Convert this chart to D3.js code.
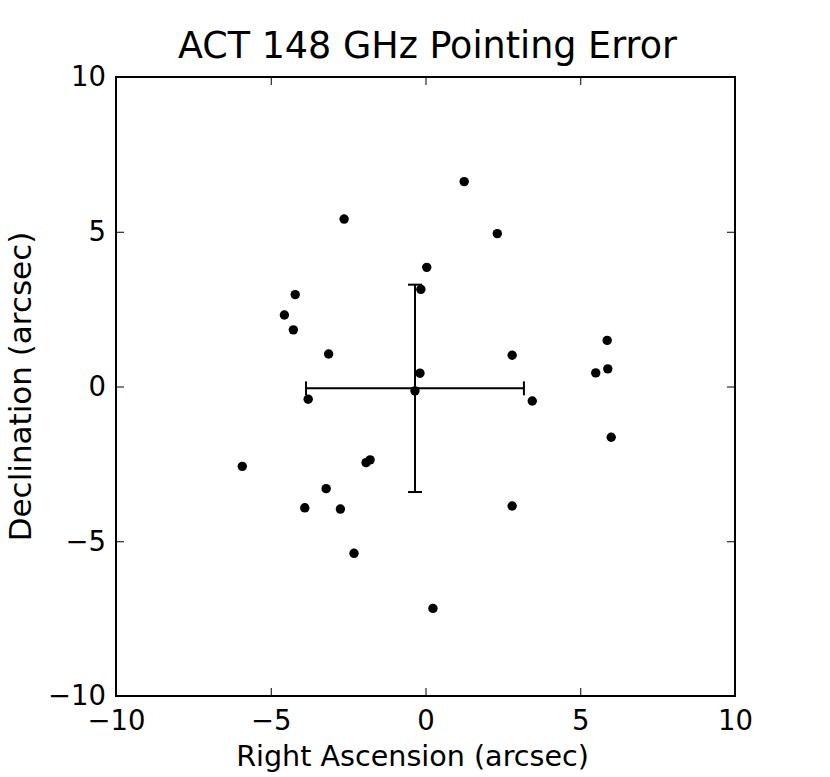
<!DOCTYPE html>
<html>
<head>
<meta charset="utf-8">
<script src="https://cdn.jsdelivr.net/npm/d3@7"></script>
<style>
  body { margin: 0; background: #fff; }
  text { font-family: "DejaVu Sans", sans-serif; fill: #000; }
</style>
</head>
<body>
<div id="chart"></div>
<script>
// pointing offsets, arcsec
const raOffsets  = [1.25, -2.63, 2.32, 0.04, -0.15, -4.21, -4.56, -4.27, -3.13, 5.87, 2.80, 5.89, 5.50, -0.18,
                    -0.34, -3.79, 3.45, 6.00, -5.92, -1.92, -1.79, -3.21, -3.90, -2.75, 2.80, -2.31, 0.24];
const decOffsets = [6.62, 5.41, 4.94, 3.85, 3.14, 2.97, 2.31, 1.83, 1.05, 1.49, 1.01, 0.57, 0.44, 0.43,
                    -0.14, -0.41, -0.47, -1.64, -2.58, -2.46, -2.37, -3.30, -3.92, -3.96, -3.86, -5.39, -7.17];
// mean and scatter drawn as the error bar
const meanPoint = [-0.34, -0.06];
const meanErr = [3.52, 3.35];
const tickValues = [-10, -5, 0, 5, 10];

const width = 830, height = 777;
const margin = {top: 77, right: 95, bottom: 81, left: 116};

const svg = d3.select('#chart')
    .append('svg')
        .attr('width', width)
        .attr('height', height);

const x = d3.scaleLinear().domain([-10, 10]).range([margin.left, width - margin.right]);
const y = d3.scaleLinear().domain([-10, 10]).range([height - margin.bottom, margin.top]);

const tickLen = 8;

// ticks pointing inwards on all four sides
function styleAxis(g){
    g.select('.domain').remove();
    g.selectAll('.tick line').attr('stroke', '#000').attr('stroke-width', 1);
    g.selectAll('.tick text').style('font-size', '27.5px');
}

svg.append('g')
    .attr('transform', `translate(0,${y(-10)})`)
    .call(d3.axisBottom(x).tickValues(tickValues).tickSizeInner(-tickLen).tickSizeOuter(0).tickPadding(14))
    .call(styleAxis);

svg.append('g')
    .attr('transform', `translate(0,${y(10)})`)
    .call(d3.axisTop(x).tickValues(tickValues).tickSizeInner(-tickLen).tickSizeOuter(0).tickFormat(''))
    .call(styleAxis);

svg.append('g')
    .attr('transform', `translate(${x(-10)},0)`)
    .call(d3.axisLeft(y).tickValues(tickValues).tickSizeInner(-tickLen).tickSizeOuter(0).tickPadding(10))
    .call(styleAxis);

svg.append('g')
    .attr('transform', `translate(${x(10)},0)`)
    .call(d3.axisRight(y).tickValues(tickValues).tickSizeInner(-tickLen).tickSizeOuter(0).tickFormat(''))
    .call(styleAxis);

// frame
svg.append('rect')
    .attr('x', x(-10))
    .attr('y', y(10))
    .attr('width', x(10) - x(-10))
    .attr('height', y(-10) - y(10))
    .attr('fill', 'none')
    .attr('stroke', '#000')
    .attr('stroke-width', 2);

// error bar
const eb = svg.append('g').attr('stroke', '#000').attr('stroke-width', 2);
const capLen = 7;
eb.append('line')
    .attr('x1', x(meanPoint[0] - meanErr[0])).attr('x2', x(meanPoint[0] + meanErr[0]))
    .attr('y1', y(meanPoint[1])).attr('y2', y(meanPoint[1]));
eb.append('line')
    .attr('x1', x(meanPoint[0])).attr('x2', x(meanPoint[0]))
    .attr('y1', y(meanPoint[1] - meanErr[1])).attr('y2', y(meanPoint[1] + meanErr[1]));
[meanPoint[0] - meanErr[0], meanPoint[0] + meanErr[0]].forEach(v => {
    eb.append('line')
        .attr('x1', x(v)).attr('x2', x(v))
        .attr('y1', y(meanPoint[1]) - capLen).attr('y2', y(meanPoint[1]) + capLen);
});
[meanPoint[1] - meanErr[1], meanPoint[1] + meanErr[1]].forEach(v => {
    eb.append('line')
        .attr('x1', x(meanPoint[0]) - capLen).attr('x2', x(meanPoint[0]) + capLen)
        .attr('y1', y(v)).attr('y2', y(v));
});

// points
svg.selectAll('circle.pt')
    .data(raOffsets.map((d, i) => [d, decOffsets[i]]))
    .enter()
    .append('circle')
        .attr('class', 'pt')
        .attr('cx', d => x(d[0]))
        .attr('cy', d => y(d[1]))
        .attr('r', 4.7)
        .attr('fill', '#000');

// title and labels
svg.append('text')
    .attr('x', (x(-10) + x(10)) / 2 + 2)
    .attr('y', 58)
    .attr('text-anchor', 'middle')
    .style('font-size', '36.5px')
    .text('ACT 148 GHz Pointing Error');

svg.append('text')
    .attr('x', (x(-10) + x(10)) / 2 - 13)
    .attr('y', 766)
    .attr('text-anchor', 'middle')
    .style('font-size', '28.6px')
    .text('Right Ascension (arcsec)');

svg.append('text')
    .attr('transform', `translate(31,${(y(-10) + y(10)) / 2}) rotate(-90)`)
    .attr('text-anchor', 'middle')
    .style('font-size', '31px')
    .text('Declination (arcsec)');
</script>
</body>
</html>
